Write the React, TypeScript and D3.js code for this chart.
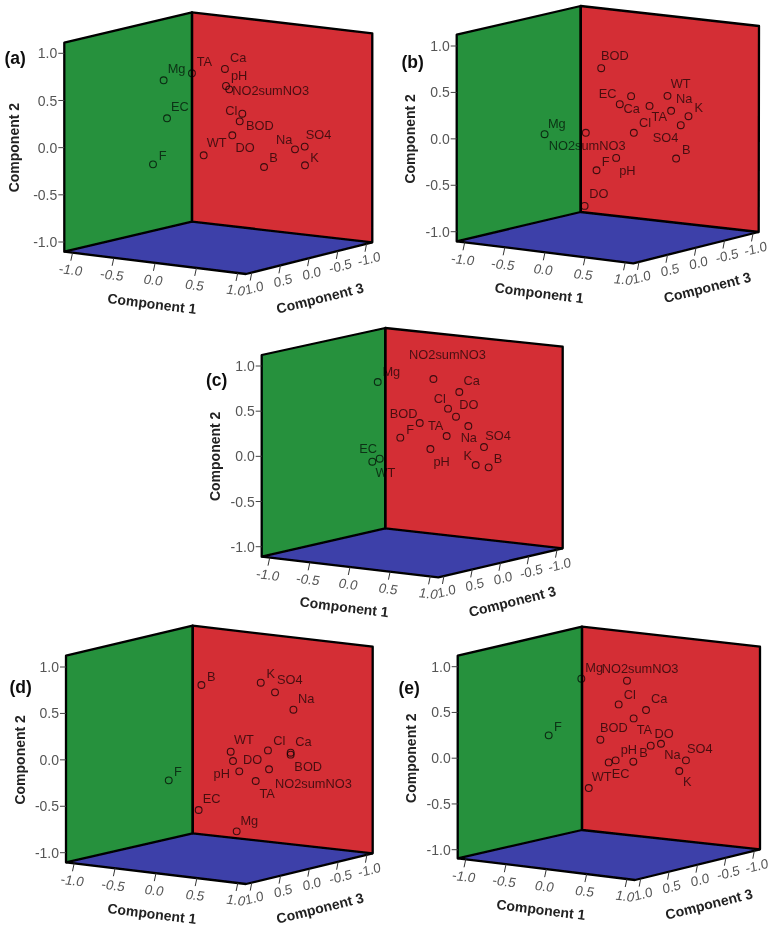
import React from "react";
import * as d3 from "d3";

// ---- Data: loadings (as projected onto the frame) ----
const namesA = ["Mg","TA","Ca","pH","NO2sumNO3","EC","Cl","BOD","DO","WT","F","B","Na","SO4","K"];
const horizA = [-0.355,-0.171,0.043,0.05,0.071,-0.333,0.156,0.139,0.091,-0.095,-0.424,0.297,0.498,0.561,0.563];
const vertA = [0.714,0.788,0.834,0.654,0.618,0.311,0.36,0.279,0.131,-0.081,-0.177,-0.205,-0.018,0.011,-0.187];

const namesB = ["BOD","EC","Ca","TA","WT","Na","K","SO4","Cl","Mg","NO2sumNO3","pH","F","B","DO"];
const horizB = [-0.043,0.08,0.155,0.277,0.396,0.42,0.535,0.484,0.173,-0.418,-0.145,0.056,-0.074,0.453,-0.153];
const vertB = [0.761,0.373,0.46,0.355,0.463,0.302,0.244,0.147,0.065,0.05,0.065,-0.205,-0.338,-0.212,-0.722];

const namesC = ["NO2sumNO3","Mg","Ca","Cl","DO","Na","BOD","F","TA","pH","SO4","K","B","EC","WT"];
const horizC = [0.141,-0.229,0.313,0.238,0.291,0.373,0.05,-0.079,0.229,0.121,0.477,0.422,0.508,-0.265,-0.216];
const vertC = [0.856,0.823,0.712,0.528,0.439,0.336,0.369,0.207,0.225,0.081,0.103,-0.096,-0.122,-0.059,-0.026];

const namesD = ["B","K","SO4","Na","WT","Cl","Ca","BOD","DO","pH","NO2sumNO3","TA","F","EC","Mg"];
const horizD = [-0.117,0.27,0.363,0.483,0.074,0.317,0.465,0.465,0.089,0.13,0.324,0.237,-0.33,-0.135,0.113];
const vertD = [0.806,0.831,0.727,0.54,0.088,0.102,0.077,0.056,-0.013,-0.124,-0.102,-0.228,-0.221,-0.54,-0.77];

const namesE = ["Mg","NO2sumNO3","Cl","Ca","TA","BOD","F","DO","Na","B","pH","EC","SO4","K","WT"];
const horizE = [-0.182,0.12,0.065,0.246,0.164,-0.056,-0.398,0.277,0.345,0.162,0.045,-0.001,0.51,0.466,-0.133];
const vertE = [0.869,0.847,0.588,0.526,0.435,0.202,0.25,0.137,0.158,-0.038,-0.024,-0.046,-0.024,-0.14,-0.326];

const axisTicks = [-1, -0.5, 0, 0.5, 1];
const axisMax = 1.1;

// ---- Label nudges, one per point (px) ----
const labelShiftA = [[4,-12],[4.7,-12],[5,-11.7],[5,-11],[3,1.3],[4,-12],[-17,-3.7],[6.3,4],[3.3,12],[3,-12.7],[5.7,-8.7],[5.3,-9.3],[-19,-10.3],[1,-12.7],[5.3,-8]];
const labelShiftB = [[-0.3,-12.7],[-21,-11],[-7.7,12.3],[2,11],[3.3,-12.7],[5,-12],[6,-8.7],[-28,12.3],[5.3,-10.7],[3.3,-11.3],[-37,12.3],[3,12.3],[5.3,-8.7],[6,-8.7],[4.7,-12.3]];
const labelShiftC = [[-24.3,-24.3],[4.7,-10.7],[4.3,-11.3],[-14.3,-10.3],[3.3,-12],[-7.7,11.3],[-30,-10],[6,-8.7],[-18.7,-10.3],[3,12],[1.3,-12],[-12.3,-10],[5,-9],[-13,-13.3],[-4.3,13.7]];
const labelShiftD = [[5.7,-8.3],[5.7,-9.3],[2,-12.7],[4.7,-11],[3.3,-12.3],[5.3,-9.7],[4.7,-11.3],[3.7,12],[10,-1.3],[-25.7,1.7],[6,13.7],[3.7,12],[5.3,-9.3],[4,-12],[3.7,-11]];
const labelShiftE = [[4,-11.3],[-25.3,-12.7],[5,-9.7],[5,-12],[3,11],[-0.3,-12],[5.3,-8.7],[3.7,-12.3],[3.3,11],[6,-9],[5,-10.7],[3,11.3],[1,-12.3],[3.7,10.7],[3,-12]];

type Pt = [number, number];
interface Panel {
  tag: string; names: string[]; horiz: number[]; vert: number[]; shift: number[][];
  leftTop: Pt; leftBot: Pt; backTop: Pt; backBot: Pt; rightTop: Pt; rightBot: Pt; front: Pt;
  yOne: number; yMinusOne: number; tagPos: Pt; titleGap: number;
}

const panels: Panel[] = [
  { tag:"(a)", names:namesA, horiz:horizA, vert:vertA, shift:labelShiftA,
    leftTop:[64.3,42.7], leftBot:[64.3,251.7], backTop:[192,12.3], backBot:[192,221.7], rightTop:[372.3,33.3], rightBot:[372.3,242.3], front:[246,274],
    yOne:53.3, yMinusOne:242, tagPos:[4.5,58], titleGap:50 },
  { tag:"(b)", names:namesB, horiz:horizB, vert:vertB, shift:labelShiftB,
    leftTop:[456.7,34.7], leftBot:[456.7,241.3], backTop:[580.7,6], backBot:[580.7,212], rightTop:[759,26], rightBot:[758.7,232], front:[633.3,263.3],
    yOne:46, yMinusOne:231.7, tagPos:[401.5,62], titleGap:47 },
  { tag:"(c)", names:namesC, horiz:horizC, vert:vertC, shift:labelShiftC,
    leftTop:[261.7,355], leftBot:[261.7,556.7], backTop:[385.3,328], backBot:[385.3,528.3], rightTop:[562.7,346.7], rightBot:[562.7,548.3], front:[438.3,577.3],
    yOne:366, yMinusOne:546.7, tagPos:[206,380], titleGap:47 },
  { tag:"(d)", names:namesD, horiz:horizD, vert:vertD, shift:labelShiftD,
    leftTop:[66,655.7], leftBot:[66,862.3], backTop:[192.7,625.7], backBot:[192.7,833.3], rightTop:[372.7,646.7], rightBot:[372.7,853.3], front:[246,884],
    yOne:667, yMinusOne:852.7, tagPos:[9.5,687], titleGap:46 },
  { tag:"(e)", names:namesE, horiz:horizE, vert:vertE, shift:labelShiftE,
    leftTop:[457.7,655.7], leftBot:[457.7,858.3], backTop:[582,626.7], backBot:[582,830], rightTop:[760,646.7], rightBot:[760,849.3], front:[635,880],
    yOne:666.7, yMinusOne:849.7, tagPos:[398.5,688], titleGap:47 },
];

const GREEN = "#25913c";
const RED = "#d42d34";
const BLUE = "#3e3fa9";
const FONT = "'Liberation Sans', Arial, sans-serif";

const lineGen = d3.line();
const poly = (pts: Pt[]) => lineGen(pts) + "Z";
const open = (pts: Pt[]) => lineGen(pts) as string;
const fmt = (t: number) => d3.format(".1f")(t).replace("\u2212", "-");

function ChartPanel({ p }: { p: Panel }) {
  const hScale = d3.scaleLinear().domain([-1, 1]).range([p.leftBot[0], p.rightBot[0]]);
  const vScale = d3.scaleLinear().domain([-1, 1]).range([p.yMinusOne, p.yOne]);
  const c1x = d3.scaleLinear().domain([-axisMax, axisMax]).range([p.leftBot[0], p.front[0]]);
  const c1y = d3.scaleLinear().domain([-axisMax, axisMax]).range([p.leftBot[1], p.front[1]]);
  const c3x = d3.scaleLinear().domain([-axisMax, axisMax]).range([p.rightBot[0], p.front[0]]);
  const c3y = d3.scaleLinear().domain([-axisMax, axisMax]).range([p.rightBot[1], p.front[1]]);
  const edge = { fill: "none", stroke: "#000", strokeWidth: 2.3, strokeLinejoin: "round" as const };

  return (
    <g fontFamily={FONT}>
      <path d={poly([p.leftTop, p.backTop, p.backBot, p.leftBot])} fill={GREEN} />
      <path d={poly([p.backTop, p.rightTop, p.rightBot, p.backBot])} fill={RED} />
      <path d={poly([p.leftBot, p.backBot, p.rightBot, p.front])} fill={BLUE} />
      <path d={poly([p.leftTop, p.backTop, p.backBot, p.leftBot])} {...edge} />
      <path d={poly([p.backTop, p.rightTop, p.rightBot, p.backBot])} {...edge} />
      <path d={open([p.leftBot, p.front, p.rightBot])} {...edge} />

      {axisTicks.map((t) => (
        <g key={"y" + t}>
          <line x1={p.leftBot[0] - 6} x2={p.leftBot[0]} y1={vScale(t)} y2={vScale(t)} stroke="#444" strokeWidth={1} />
          <text x={p.leftBot[0] - 7} y={vScale(t)} dy="0.36em" textAnchor="end" fontSize={14} fill="#555">{fmt(t)}</text>
        </g>
      ))}
      {axisTicks.map((t) => {
        const x = c1x(t), y = c1y(t);
        return (
          <g key={"c1" + t}>
            <line x1={x} y1={y} x2={x - 1.7} y2={y + 8} stroke="#333" strokeWidth={1} />
            <text transform={`translate(${x - 1.7},${y + 17}) rotate(7) skewX(-8)`} dy="0.36em" textAnchor="middle" fontSize={13.5} fill="#555">{fmt(t)}</text>
          </g>
        );
      })}
      {axisTicks.map((t) => {
        const x = c3x(t), y = c3y(t);
        return (
          <g key={"c3" + t}>
            <line x1={x} y1={y} x2={x - 1.5} y2={y + 8} stroke="#333" strokeWidth={1} />
            <text transform={`translate(${x + 2.5},${y + 15}) rotate(-14) skewX(-6)`} dy="0.36em" textAnchor="middle" fontSize={13.5} fill="#555">{fmt(t)}</text>
          </g>
        );
      })}

      <text transform={`translate(${p.front[0] - 94},${p.front[1] + 29.5}) rotate(7)`} dy="0.36em" textAnchor="middle" fontSize={14} fontWeight="bold" fill="#222">Component 1</text>
      <text transform={`translate(${p.front[0] + 74},${p.front[1] + 24}) rotate(-14)`} dy="0.36em" textAnchor="middle" fontSize={14} fontWeight="bold" fill="#222">Component 3</text>
      <text transform={`translate(${p.leftBot[0] - p.titleGap},${vScale(0)}) rotate(-90)`} dy="0.36em" textAnchor="middle" fontSize={14} fontWeight="bold" fill="#222">Component 2</text>

      {p.names.map((name, i) => {
        const x = hScale(p.horiz[i]), y = vScale(p.vert[i]);
        return (
          <g key={name}>
            <circle cx={x} cy={y} r={3.4} fill="none" stroke="#000" strokeOpacity={0.72} strokeWidth={1.1} />
            <text x={x + p.shift[i][0]} y={y + p.shift[i][1]} dy="0.36em" fontSize={12.8} fill="#000" fillOpacity={0.66}>{name}</text>
          </g>
        );
      })}

      <text x={p.tagPos[0]} y={p.tagPos[1]} dy="0.36em" fontSize={17.5} fontWeight="bold" fill="#111">{p.tag}</text>
    </g>
  );
}

export default function App() {
  return (
    <svg width={770} height={927} viewBox="0 0 770 927" style={{ position: "absolute", left: 0, top: 0, background: "#fff" }}>
      <defs>
        <filter id="soft" x="0" y="0" width="100%" height="100%">
          <feGaussianBlur stdDeviation="0.4" />
        </filter>
      </defs>
      <g filter="url(#soft)">
        <rect width={770} height={927} fill="#fff" />
        {panels.map((p) => <ChartPanel key={p.tag} p={p} />)}
      </g>
    </svg>
  );
}
